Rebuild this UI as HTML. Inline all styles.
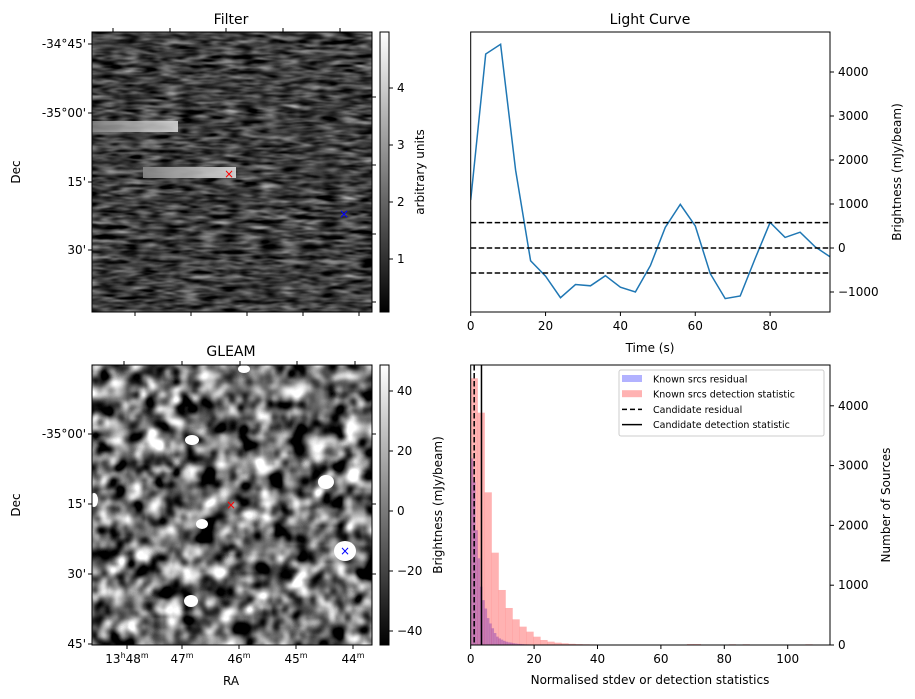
<!DOCTYPE html>
<html><head><meta charset="utf-8"><style>
html,body{margin:0;padding:0;background:#fff;}
svg{display:block;font-family:"DejaVu Sans","Liberation Sans",sans-serif;}
</style></head><body>
<svg id="fig" width="915" height="699" viewBox="0 0 915 699" xmlns="http://www.w3.org/2000/svg">
<defs>
<filter id="fNoise" x="0" y="0" width="100%" height="100%" color-interpolation-filters="sRGB">
<feTurbulence type="fractalNoise" baseFrequency="0.05 0.2" numOctaves="2" seed="3"/>
<feColorMatrix type="matrix" values="0.33 0.33 0.33 0 0  0.33 0.33 0.33 0 0  0.33 0.33 0.33 0 0  0 0 0 0 1"/>
<feComponentTransfer><feFuncR type="linear" slope="1.6" intercept="-0.55"/><feFuncG type="linear" slope="1.6" intercept="-0.55"/><feFuncB type="linear" slope="1.6" intercept="-0.55"/></feComponentTransfer>
</filter>
<filter id="gNoise" x="0" y="0" width="100%" height="100%" color-interpolation-filters="sRGB">
<feTurbulence type="fractalNoise" baseFrequency="0.055" numOctaves="2" seed="7"/>
<feColorMatrix type="matrix" values="0.33 0.33 0.33 0 0  0.33 0.33 0.33 0 0  0.33 0.33 0.33 0 0  0 0 0 0 1"/>
<feComponentTransfer><feFuncR type="linear" slope="4" intercept="-1.55"/><feFuncG type="linear" slope="4" intercept="-1.55"/><feFuncB type="linear" slope="4" intercept="-1.55"/></feComponentTransfer>
</filter>
<linearGradient id="cbar" x1="0" y1="1" x2="0" y2="0"><stop offset="0" stop-color="#000"/><stop offset="1" stop-color="#fff"/></linearGradient>
<linearGradient id="streak" x1="0" x2="1"><stop offset="0" stop-color="#888"/><stop offset="1" stop-color="#ddd"/></linearGradient>
<clipPath id="clipLC"><rect x="470.7" y="32" width="359.3" height="280"/></clipPath>
</defs>

<g>
<text x="231" y="24" font-size="14" text-anchor="middle">Filter</text>
<rect x="92" y="32" width="280" height="280" filter="url(#fNoise)"/>
<rect x="92" y="121" width="86" height="11" fill="url(#streak)" opacity="0.85"/>
<rect x="143" y="167" width="93" height="11" fill="url(#streak)" opacity="0.9"/>
<rect x="92" y="32" width="280" height="280" fill="none" stroke="#000" stroke-width="1"/>
<text x="229" y="178" font-size="12" fill="#f00" text-anchor="middle">×</text>
<text x="344" y="218" font-size="12" fill="#00f" text-anchor="middle">×</text>
<g font-size="12" text-anchor="end">
<text x="86" y="48">-34°45'</text><text x="86" y="117">-35°00'</text><text x="86" y="186">15'</text><text x="86" y="254">30'</text></g>
<g stroke="#000">
<line x1="88" y1="44" x2="92" y2="44"/><line x1="88" y1="113" x2="92" y2="113"/><line x1="88" y1="182" x2="92" y2="182"/><line x1="88" y1="250" x2="92" y2="250"/>
<line x1="113" y1="28" x2="113" y2="32"/><line x1="170" y1="28" x2="170" y2="32"/><line x1="226" y1="28" x2="226" y2="32"/><line x1="283" y1="28" x2="283" y2="32"/><line x1="340" y1="28" x2="340" y2="32"/>
<line x1="135" y1="312" x2="135" y2="316"/><line x1="191" y1="312" x2="191" y2="316"/><line x1="247" y1="312" x2="247" y2="316"/><line x1="303" y1="312" x2="303" y2="316"/><line x1="359" y1="312" x2="359" y2="316"/>
<line x1="372" y1="97" x2="376" y2="97"/><line x1="372" y1="165" x2="376" y2="165"/><line x1="372" y1="234" x2="376" y2="234"/><line x1="372" y1="302" x2="376" y2="302"/></g>
<text x="20" y="172" font-size="12" text-anchor="middle" transform="rotate(-90 20 172)">Dec</text>
<rect x="380" y="32" width="9" height="280" fill="url(#cbar)" stroke="#000"/>
<g font-size="12">
<line x1="389" y1="88" x2="393" y2="88" stroke="#000"/><text x="397" y="92">4</text>
<line x1="389" y1="145" x2="393" y2="145" stroke="#000"/><text x="397" y="149">3</text>
<line x1="389" y1="202" x2="393" y2="202" stroke="#000"/><text x="397" y="206">2</text>
<line x1="389" y1="259" x2="393" y2="259" stroke="#000"/><text x="397" y="263">1</text></g>
<text x="424" y="172" font-size="12" text-anchor="middle" transform="rotate(-90 424 172)">arbitrary units</text>
</g>

<g>
<text x="231" y="356" font-size="14" text-anchor="middle">GLEAM</text>
<rect x="92" y="365" width="280" height="280" filter="url(#gNoise)"/>
<g fill="#fff">
<ellipse cx="345" cy="551" rx="11" ry="10"/><ellipse cx="326" cy="482" rx="8" ry="7"/><ellipse cx="192" cy="440" rx="7" ry="5"/>
<ellipse cx="202" cy="524" rx="6" ry="5"/><ellipse cx="191" cy="601" rx="7" ry="6"/><ellipse cx="244" cy="369" rx="6" ry="4"/><ellipse cx="94" cy="500" rx="4" ry="7"/></g>
<rect x="92" y="365" width="280" height="280" fill="none" stroke="#000"/>
<text x="231" y="509" font-size="12" fill="#f00" text-anchor="middle">×</text>
<text x="345" y="555" font-size="12" fill="#00f" text-anchor="middle">×</text>
<g font-size="12" text-anchor="end">
<text x="86" y="438">-35°00'</text><text x="86" y="508">15'</text><text x="86" y="578">30'</text><text x="86" y="648">45'</text></g>
<g stroke="#000">
<line x1="88" y1="434" x2="92" y2="434"/><line x1="88" y1="504" x2="92" y2="504"/><line x1="88" y1="574" x2="92" y2="574"/><line x1="88" y1="644" x2="92" y2="644"/>
<line x1="127" y1="645" x2="127" y2="649"/><line x1="182" y1="645" x2="182" y2="649"/><line x1="239" y1="645" x2="239" y2="649"/><line x1="296" y1="645" x2="296" y2="649"/><line x1="353" y1="645" x2="353" y2="649"/>
<line x1="124" y1="361" x2="124" y2="365"/><line x1="182" y1="361" x2="182" y2="365"/><line x1="240" y1="361" x2="240" y2="365"/><line x1="297" y1="361" x2="297" y2="365"/><line x1="355" y1="361" x2="355" y2="365"/>
<line x1="372" y1="434" x2="376" y2="434"/><line x1="372" y1="504" x2="376" y2="504"/><line x1="372" y1="574" x2="376" y2="574"/></g>
<g font-size="12" text-anchor="middle">
<text x="127" y="663">13<tspan font-size="8" dy="-5">h</tspan><tspan dy="5">48</tspan><tspan font-size="8" dy="-5">m</tspan></text>
<text x="182" y="663">47<tspan font-size="8" dy="-5">m</tspan></text>
<text x="239" y="663">46<tspan font-size="8" dy="-5">m</tspan></text>
<text x="296" y="663">45<tspan font-size="8" dy="-5">m</tspan></text>
<text x="353" y="663">44<tspan font-size="8" dy="-5">m</tspan></text></g>
<text x="231" y="685" font-size="12" text-anchor="middle">RA</text>
<text x="20" y="505" font-size="12" text-anchor="middle" transform="rotate(-90 20 505)">Dec</text>
<rect x="380" y="365" width="9" height="280" fill="url(#cbar)" stroke="#000"/>
<g font-size="12">
<line x1="389" y1="391" x2="393" y2="391" stroke="#000"/><text x="397" y="395">40</text>
<line x1="389" y1="451" x2="393" y2="451" stroke="#000"/><text x="397" y="455">20</text>
<line x1="389" y1="511" x2="393" y2="511" stroke="#000"/><text x="397" y="515">0</text>
<line x1="389" y1="571" x2="393" y2="571" stroke="#000"/><text x="397" y="575">−20</text>
<line x1="389" y1="631" x2="393" y2="631" stroke="#000"/><text x="397" y="635">−40</text></g>
<text x="442" y="505" font-size="12" text-anchor="middle" transform="rotate(-90 442 505)">Brightness (mJy/beam)</text>
</g>

<g id="lc">
<text x="650" y="24" font-size="14" text-anchor="middle">Light Curve</text>
<text x="650" y="352" font-size="12" text-anchor="middle">Time (s)</text>
<text x="901" y="172" font-size="12" text-anchor="middle" transform="rotate(-90 901 172)">Brightness (mJy/beam)</text>
</g>

<g id="hist">
<text x="650" y="684" font-size="12" text-anchor="middle">Normalised stdev or detection statistics</text>
<text x="890" y="505" font-size="12" text-anchor="middle" transform="rotate(-90 890 505)">Number of Sources</text>
</g>
</svg>
<script>
var lcTimes=[0,4,8,12,16,20,24,28,32,36,40,44,48,52,56,60,64,68,72,76,80,84,88,92,96];
var lcValues=[1090,4410,4630,1770,-290,-640,-1130,-830,-860,-630,-890,-1000,-400,470,990,500,-580,-1150,-1090,-240,580,240,360,30,-200];
var lcThresholds=[576,0,-568];
var lcXTicks=[0,20,40,60,80];
var lcYTicks=[-1000,0,1000,2000,3000,4000];

var redBinWidth=2.2;
var redCounts=[4460,3885,2553,1544,920,619,429,307,223,139,84,56,39,28,20,15,12,10,8,6,5,5,4,4,3,3,3,3,0,0,0,15,15,0,0,0,0,12,0,12,0,0,0,0,0,0,0,0,12];
var blueBinWidth=0.73;
var blueCounts=[3120,2730,1920,1450,975,750,610,450,360,280,200,140,110,90,70,55,45,40,30,25,20,18,15,12,10,9,8,7,6,5,5,4,4,3,3,3,2,2,2,2,2,2,2,2,2,2,2,2,2,2,2,2,2,2,5];
var candidateResidual=1.1;
var candidateDetection=3.4;
var histXTicks=[0,20,40,60,80,100];
var histYTicks=[0,1000,2000,3000,4000];

var NS='http://www.w3.org/2000/svg';
function mk(tag,attrs,parent){var e=document.createElementNS(NS,tag);for(var k in attrs)e.setAttribute(k,attrs[k]);parent.appendChild(e);return e;}

var lcX=function(v){return 470.7+(v-0)/96*359.3;};
var lcY=function(v){return 248-v*0.044;};
var lc=document.getElementById('lc');
var pts=lcTimes.map(function(t,i){return lcX(t).toFixed(1)+','+lcY(lcValues[i]).toFixed(1);}).join(' ');
var line=mk('polyline',{points:pts,fill:'none',stroke:'#1f77b4','stroke-width':1.5,'clip-path':'url(#clipLC)'},lc);


lcThresholds.forEach(function(v,i){
 var l=mk('line',{x1:470.7,x2:830,y1:lcY(v),y2:lcY(v),stroke:'#000','stroke-width':1.5,'stroke-dasharray':'5.5,2.5'},lc);
 
 
});
var fr=mk('rect',{x:470.7,y:32,width:359.3,height:280,fill:'none',stroke:'#000'},lc);


lcXTicks.forEach(function(v){
 mk('line',{x1:lcX(v),x2:lcX(v),y1:312,y2:316,stroke:'#000'},lc);
 var t=mk('text',{x:lcX(v),y:330,'font-size':12,'text-anchor':'middle'},lc);t.textContent=v;
 
 
});
lcYTicks.forEach(function(v){
 mk('line',{x1:830,x2:834,y1:lcY(v),y2:lcY(v),stroke:'#000'},lc);
 var t=mk('text',{x:838,y:lcY(v)+4,'font-size':12},lc);t.textContent=(v<0?'−'+(-v):v);
 
 
});

var hX=function(v){return 470.7+v*3.17;};
var hY=function(v){return 645-v*0.0598;};
var h=document.getElementById('hist');
blueCounts.forEach(function(c,i){
 if(c<=0)return;
 var r=mk('rect',{x:hX(i*blueBinWidth),y:hY(c),width:blueBinWidth*3.17+0.2,height:645-hY(c),fill:'#0000ff','fill-opacity':0.3},h);
 
 
});
redCounts.forEach(function(c,i){
 if(c<=0)return;
 var r=mk('rect',{x:hX(i*redBinWidth),y:hY(c),width:redBinWidth*3.17+0.2,height:645-hY(c),fill:'#ff0000','fill-opacity':0.3},h);
 
 
});
var cr=mk('line',{x1:hX(candidateResidual),x2:hX(candidateResidual),y1:365,y2:645,stroke:'#000','stroke-width':1.5,'stroke-dasharray':'5.5,2.5'},h);


var cd=mk('line',{x1:hX(candidateDetection),x2:hX(candidateDetection),y1:365,y2:645,stroke:'#000','stroke-width':1.5},h);


var hf=mk('rect',{x:470.7,y:365,width:359.3,height:280,fill:'none',stroke:'#000'},h);


histXTicks.forEach(function(v){
 mk('line',{x1:hX(v),x2:hX(v),y1:645,y2:649,stroke:'#000'},h);
 var t=mk('text',{x:hX(v),y:663,'font-size':12,'text-anchor':'middle'},h);t.textContent=v;
 
 
});
histYTicks.forEach(function(v){
 mk('line',{x1:830,x2:834,y1:hY(v),y2:hY(v),stroke:'#000'},h);
 var t=mk('text',{x:838,y:hY(v)+4,'font-size':12},h);t.textContent=v;
 
 
});
var lg=mk('g',{},h);


mk('rect',{x:619,y:370,width:205,height:66,fill:'#fff','fill-opacity':0.8,stroke:'#ccc',rx:2},lg);
var items=[['Known srcs residual','blue'],['Known srcs detection statistic','red'],['Candidate residual','dash'],['Candidate detection statistic','solid']];
items.forEach(function(it,i){
 var y=379+i*15.2;
 if(it[1]=='blue'||it[1]=='red'){mk('rect',{x:622,y:y-4,width:20,height:7,fill:it[1]=='blue'?'#0000ff':'#ff0000','fill-opacity':0.3},lg);}
 else{mk('line',{x1:622,x2:642,y1:y,y2:y,stroke:'#000','stroke-width':1.5,'stroke-dasharray':it[1]=='dash'?'5,3':'none'},lg);}
 var t=mk('text',{x:653,y:y+3.5,'font-size':9.5},lg);t.textContent=it[0];
 
 
});
</script>
</body></html>
